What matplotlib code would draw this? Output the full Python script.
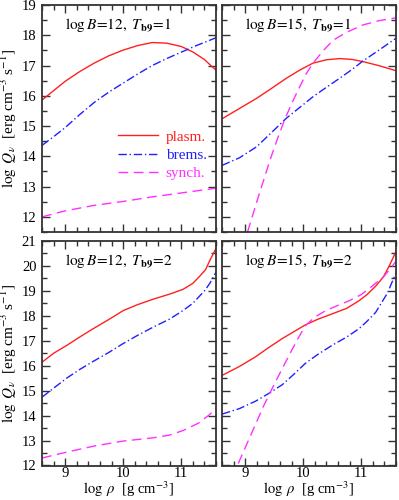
import numpy as np
import matplotlib
matplotlib.use('Agg')
from matplotlib import pyplot as plt
from matplotlib.ticker import MultipleLocator

plt.rcParams['font.family'] = ['Liberation Serif', 'DejaVu Serif']
plt.rcParams['mathtext.fontset'] = 'stix'
plt.rcParams['font.size'] = 11
plt.rcParams['axes.linewidth'] = 1.3

#----------------------------------------------------------------------
# データ (log rho, log Q)
# logB=12, Tb9=1
a_pl_x = [8.6, 8.8, 9.0, 9.25, 9.5, 9.75, 10.0, 10.25, 10.5, 10.75, 11.0, 11.2, 11.4, 11.5, 11.6]
a_pl_y = [15.86, 16.17, 16.48, 16.80, 17.08, 17.32, 17.51, 17.66, 17.76, 17.74, 17.63, 17.45, 17.2, 17.02, 16.85]
a_br_x = [8.6, 8.8, 9.0, 9.25, 9.5, 9.75, 10.0, 10.25, 10.5, 10.75, 11.0, 11.25, 11.5, 11.6]
a_br_y = [14.36, 14.65, 14.95, 15.38, 15.78, 16.12, 16.42, 16.72, 17.0, 17.23, 17.44, 17.65, 17.84, 17.92]
a_sy_x = [8.6, 9.0, 9.5, 10.0, 10.5, 11.0, 11.5, 11.6]
a_sy_y = [12.0, 12.2, 12.38, 12.51, 12.66, 12.79, 12.92, 12.95]

# logB=15, Tb9=1
b_pl_x = [8.6, 8.9, 9.2, 9.45, 9.71, 9.95, 10.17, 10.4, 10.63, 10.85, 11.03, 11.3, 11.6]
b_pl_y = [15.24, 15.58, 15.92, 16.24, 16.58, 16.86, 17.08, 17.19, 17.23, 17.2, 17.13, 17.0, 16.83]
b_br_x = [8.6, 8.9, 9.2, 9.45, 9.71, 9.95, 10.17, 10.4, 10.63, 10.85, 11.03, 11.3, 11.6]
b_br_y = [13.70, 13.95, 14.32, 14.78, 15.26, 15.63, 15.97, 16.28, 16.58, 16.88, 17.15, 17.5, 17.90]
b_sy_x = [9.04, 9.2, 9.43, 9.56, 9.69, 9.82, 9.94, 10.05, 10.17, 10.35, 10.52, 10.75, 11.03, 11.3, 11.55, 11.6]
b_sy_y = [11.5, 12.5, 13.89, 14.6, 15.26, 15.82, 16.30, 16.72, 17.08, 17.5, 17.84, 18.1, 18.34, 18.48, 18.56, 18.58]

# logB=12, Tb9=2
c_pl_x = [8.6, 8.8, 9.03, 9.25, 9.48, 9.75, 10.0, 10.25, 10.52, 10.8, 11.03, 11.2, 11.32, 11.42, 11.5, 11.6]
c_pl_y = [16.14, 16.5, 16.82, 17.15, 17.48, 17.85, 18.21, 18.45, 18.67, 18.87, 19.06, 19.3, 19.59, 19.85, 20.25, 20.7]
c_br_x = [8.6, 8.8, 9.03, 9.25, 9.48, 9.75, 10.0, 10.25, 10.52, 10.8, 11.03, 11.2, 11.32, 11.42, 11.5, 11.6]
c_br_y = [14.74, 15.1, 15.51, 15.85, 16.17, 16.53, 16.89, 17.22, 17.55, 17.87, 18.21, 18.5, 18.80, 19.05, 19.33, 19.75]
c_sy_x = [8.6, 9.03, 9.5, 10.0, 10.52, 10.8, 11.03, 11.3, 11.5, 11.6]
c_sy_y = [12.30, 12.54, 12.78, 12.98, 13.11, 13.22, 13.40, 13.7, 14.06, 14.3]

# logB=15, Tb9=2
d_pl_x = [8.6, 8.9, 9.18, 9.4, 9.64, 9.85, 10.04, 10.25, 10.5, 10.75, 10.96, 11.1, 11.25, 11.38, 11.48, 11.6]
d_pl_y = [15.61, 15.97, 16.36, 16.72, 17.09, 17.38, 17.64, 17.86, 18.08, 18.3, 18.60, 18.85, 19.19, 19.55, 19.98, 20.58]
d_br_x = [8.6, 8.9, 9.18, 9.4, 9.64, 9.85, 10.04, 10.25, 10.5, 10.75, 10.96, 11.1, 11.25, 11.45, 11.6]
d_br_y = [14.06, 14.28, 14.58, 14.88, 15.24, 15.68, 16.10, 16.45, 16.82, 17.15, 17.48, 17.78, 18.14, 18.9, 19.72]
d_sy_x = [8.88, 9.03, 9.18, 9.32, 9.47, 9.62, 9.76, 9.9, 10.04, 10.2, 10.39, 10.6, 10.79, 11.0, 11.19, 11.4, 11.6]
d_sy_y = [12.08, 12.87, 13.66, 14.4, 15.11, 15.8, 16.43, 17.05, 17.61, 17.95, 18.21, 18.42, 18.60, 18.85, 19.19, 19.6, 20.18]

panels = [
    ("12", "1", (a_pl_x, a_pl_y), (a_br_x, a_br_y), (a_sy_x, a_sy_y)),
    ("15", "1", (b_pl_x, b_pl_y), (b_br_x, b_br_y), (b_sy_x, b_sy_y)),
    ("12", "2", (c_pl_x, c_pl_y), (c_br_x, c_br_y), (c_sy_x, c_sy_y)),
    ("15", "2", (d_pl_x, d_pl_y), (d_br_x, d_br_y), (d_sy_x, d_sy_y)),
]

#======================================================================
fig = plt.figure(figsize=(3.99, 5.0), dpi=100)
rects = [
    [0.1053, 0.536, 0.436, 0.454],
    [0.5564, 0.536, 0.436, 0.454],
    [0.1053, 0.069, 0.436, 0.449],
    [0.5564, 0.069, 0.436, 0.449],
]

for i, (lb, tb, pl, br, sy) in enumerate(panels):
    ax = fig.add_axes(rects[i])
    ax.plot(pl[0], pl[1], color='#ff2020', lw=1.0, label='plasm.')
    ax.plot(br[0], br[1], color='#2020ff', lw=1.0,
            dashes=(6, 2, 1, 2), label='brems.')
    ax.plot(sy[0], sy[1], color='#ff30ff', lw=1.0,
            dashes=(7, 4), label='synch.')

    ax.set_xlim(8.6, 11.6)
    if i < 2:
        ax.set_ylim(11.5, 19)
        ax.set_yticks(np.arange(12, 20))
    else:
        ax.set_ylim(12, 21)
        ax.set_yticks(np.arange(12, 22))
    ax.set_xticks([9, 10, 11])
    ax.xaxis.set_minor_locator(MultipleLocator(0.2))
    ax.yaxis.set_minor_locator(MultipleLocator(0.5))
    ax.tick_params(which='both', direction='in', top=True, right=True,
                   color='#333333', width=1.0, labelsize=10.5)
    ax.tick_params(which='major', length=6)
    ax.tick_params(axis='x', which='major', pad=1)
    ax.tick_params(axis='y', which='major', pad=4)
    ax.tick_params(which='minor', length=3.5)
    for s in ax.spines.values():
        s.set_color('#333333')

    if i % 2 == 1:
        ax.set_yticklabels([])
    else:
        ax.set_ylabel(r'$\log\ Q_\nu$  [erg cm$^{-3}$ s$^{-1}$]',
                      fontsize=11, va='center')
        ax.yaxis.set_label_coords(-0.19, 0.5)
    if i < 2:
        ax.set_xticklabels([])
    else:
        ax.set_xlabel(r'$\log\ \rho$  [g cm$^{-3}$]',
                      fontsize=10.5, va='bottom')
        ax.xaxis.set_label_coords(0.5, -0.148)

    ax.text(0.13, 0.91,
            r'$\log B\!=\!%s,\ T_{\mathbf{b9}}\!=\!%s$' % (lb, tb),
            transform=ax.transAxes, fontsize=11, va='center', ha='left')

    if i == 0:
        leg = ax.legend(loc='upper left', bbox_to_anchor=(0.36, 0.51),
                        frameon=False, handlelength=2.6, handletextpad=0.5,
                        labelspacing=0.3, fontsize=11, labelcolor='linecolor')

plt.savefig('out.png', dpi=100)
